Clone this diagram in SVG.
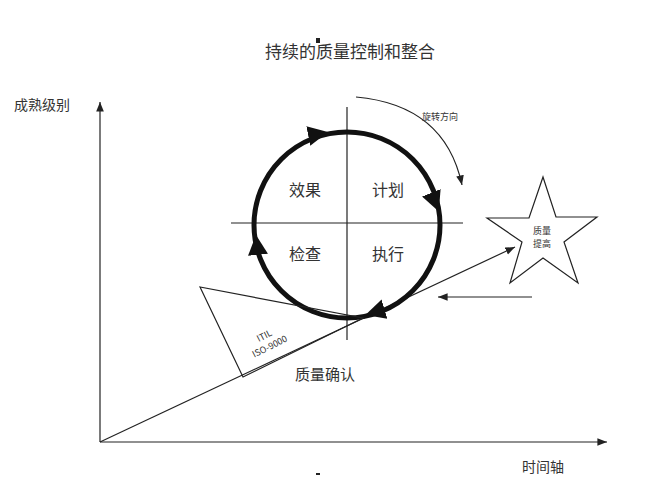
<svg xmlns="http://www.w3.org/2000/svg" width="667" height="500" viewBox="0 0 667 500">
<style>
text{font-family:"Noto Sans CJK SC","Liberation Serif",serif;fill:#333}
.l{stroke:#222;stroke-width:1.2;fill:none}
</style>
<defs>
<marker id="a" viewBox="0 0 10 10" refX="10" refY="5" markerWidth="8" markerHeight="8" orient="auto"><path d="M0,1 L10,5 L0,9z" fill="#222"/></marker>
<marker id="b" viewBox="0 0 10 10" refX="5" refY="5" markerWidth="4" markerHeight="4.5" orient="auto"><path d="M0,0 L10,5 L0,10z" fill="#111"/></marker>
</defs>
<rect width="667" height="500" fill="#fff"/>
<rect x="316" y="38" width="4" height="5" fill="#222"/>
<rect x="316" y="473" width="4" height="2" fill="#222"/>
<text x="350" y="58" font-size="17" text-anchor="middle">持续的质量控制和整合</text>
<text x="14" y="110" font-size="14">成熟级别</text>
<text x="522" y="472" font-size="14">时间轴</text>
<g id="connectors">
<line class="l" x1="100" y1="442" x2="100" y2="102" marker-end="url(#a)"/>
<line class="l" x1="100" y1="442" x2="607" y2="442" marker-end="url(#a)"/>
<line class="l" x1="100" y1="442" x2="515" y2="247" marker-end="url(#a)"/>
<line class="l" x1="532" y1="297" x2="438" y2="297" marker-end="url(#a)"/>
<path class="l" d="M356,97 Q445,105 462,185" marker-end="url(#a)"/>
</g>
<g id="axes-cross">
<line class="l" x1="347" y1="107" x2="347" y2="340"/>
<line class="l" x1="231" y1="223" x2="463" y2="223"/>
</g>
<g id="cycle">
<circle cx="347" cy="225" r="93" fill="none" stroke="#111" stroke-width="5"/>
<path d="M318,134 l0.1,-0.02" marker-end="url(#b)" stroke="#111" stroke-width="5"/>
<path d="M435,202 l0.04,0.1" marker-end="url(#b)" stroke="#111" stroke-width="5"/>
<path d="M375,312 l-0.1,0.03" marker-end="url(#b)" stroke="#111" stroke-width="5"/>
<path d="M257,245 l-0.01,-0.1" marker-end="url(#b)" stroke="#111" stroke-width="5"/>
</g>
<g id="quadrants" font-size="16">
<text x="305" y="196" text-anchor="middle">效果</text>
<text x="388" y="196" text-anchor="middle">计划</text>
<text x="305" y="260" text-anchor="middle">检查</text>
<text x="388" y="260" text-anchor="middle">执行</text>
</g>
<text x="440" y="120" font-size="9" text-anchor="middle">旋转方向</text>
<g id="triangle">
<polygon class="l" points="200,287 243,377 363,318"/>
<text transform="translate(268,343) rotate(-27)" font-size="9" text-anchor="middle"><tspan x="0" y="-5">ITIL</tspan><tspan x="0" y="7">ISO-9000</tspan></text>
</g>
<text x="325" y="380" font-size="15" text-anchor="middle">质量确认</text>
<g id="star">
<polygon class="l" points="543,177 556,217 597,217 564,242 578,283 543,258 510,283 522,242 487,218 529,218"/>
<text x="542" y="234" font-size="9" text-anchor="middle">质量</text>
<text x="542" y="247" font-size="9" text-anchor="middle">提高</text>
</g>
</svg>
